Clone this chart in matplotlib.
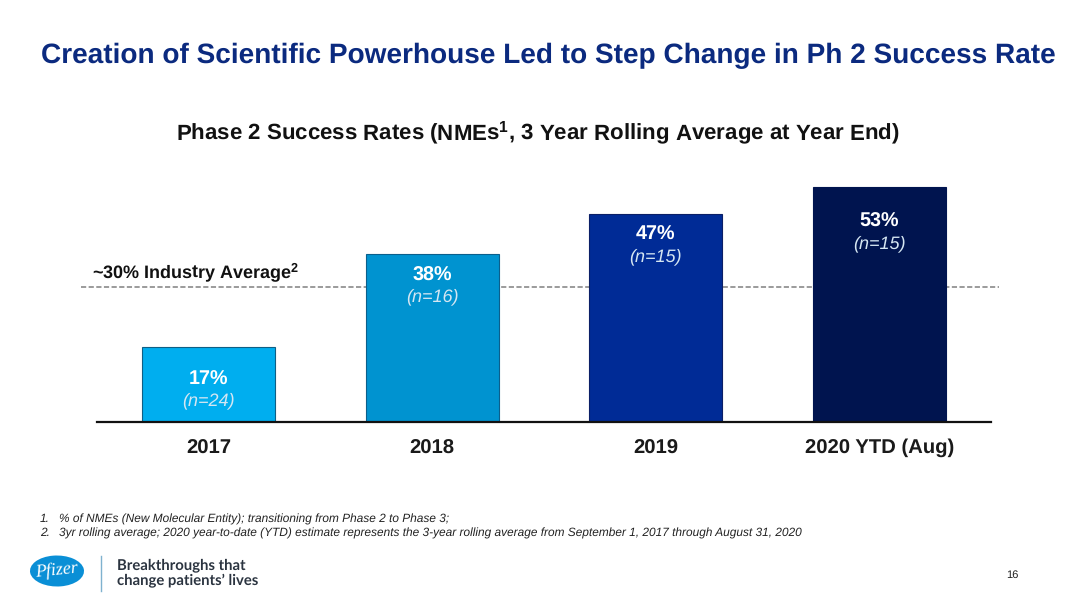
import matplotlib
matplotlib.use('Agg')
import matplotlib.pyplot as plt
import matplotlib.patches as mpatches

plt.rcParams['font.family'] = ['Liberation Sans', 'DejaVu Sans']
plt.rcParams['mathtext.fontset'] = 'custom'
plt.rcParams['mathtext.rm'] = 'Liberation Sans'
plt.rcParams['mathtext.bf'] = 'Liberation Sans:bold'
plt.rcParams['mathtext.it'] = 'Liberation Sans:italic'
plt.rcParams['text.hinting'] = 'no_hinting'

years = ['2017', '2018', '2019', '2020 YTD (Aug)']
rates = [17, 38, 47, 53]
counts = [24, 16, 15, 15]
bar_colors = ['#00AEEF', '#0093D0', '#002B96', '#00144F']
edge_colors = ['#0F5F85', '#0B5F8C', '#0B1F66', '#00144F']
industry_avg = 30

# how far below the bar top each label sits, in pixels
pct_offsets = [33, 22, 21, 34]
n_offsets = [54, 43, 43, 56]

W, H = 1080, 607


def px(x, y):
    # reference pixels to figure fraction
    return x / W, 1 - y / H


fig = plt.figure(figsize=(W / 100, H / 100), dpi=100, facecolor='white')
ax = fig.add_axes([97 / W, 1 - 422 / H, (991 - 97) / W, (422 - 170) / H])
ax.set_xlim(-0.5, 3.5)
ax.set_ylim(0, 252 / 4.43)

ax.plot([-0.57, 3.537], [industry_avg + 0.4] * 2, ls=(0, (3.4, 1.6)), lw=1.1,
        color='#808080', clip_on=False, zorder=1)
ax.bar(range(len(years)), rates, width=0.595, color=bar_colors,
       edgecolor=edge_colors, linewidth=0.8, zorder=2)

for i, (r, n) in enumerate(zip(rates, counts)):
    ax.annotate(f'{r}%', (i, r), xytext=(0, -pct_offsets[i]), textcoords='offset pixels',
                ha='center', va='center', color='white', fontsize=14.2,
                fontweight='bold', zorder=3)
    ax.annotate(f'(n={n})', (i, r), xytext=(0, -n_offsets[i]), textcoords='offset pixels',
                ha='center', va='center', color='#d5e6f2', fontsize=13,
                fontstyle='italic', zorder=3)

for s in ['top', 'left', 'right']:
    ax.spines[s].set_visible(False)
ax.spines['bottom'].set_linewidth(1.6)
ax.spines['bottom'].set_color('#111111')
ax.set_yticks([])
ax.set_xticks(range(len(years)))
ax.set_xticklabels(years, fontsize=14.6, fontweight='bold', color='#1a1a1a')
ax.tick_params(axis='x', length=0, pad=12.5)
# the brackets make this label taller, lift it back in line with the others
ax.get_xticklabels()[3].set_y(1.5 / 252)

fig.text(*px(548, 56), 'Creation of Scientific Powerhouse Led to Step Change in Ph 2 Success Rate',
         ha='center', va='center', fontsize=20.2, fontweight='bold', color='#0B2A7F')
fig.text(*px(538, 133), r'Phase 2 Success Rates (NMEs$^{\mathbf{1}}$, 3 Year Rolling Average at Year End)',
         ha='center', va='center', fontsize=16.07, fontweight='bold', color='#111111')
fig.text(*px(92, 272), r'~30% Industry Average$^{\mathbf{2}}$', ha='left', va='center',
         fontsize=13, fontweight='bold', color='#111111')

# footnotes
fig.text(*px(40, 519), '1.', ha='left', va='center', fontsize=8.55, style='italic', color='#222222')
fig.text(*px(59, 519), '% of NMEs (New Molecular Entity); transitioning from Phase 2 to Phase 3;',
         ha='left', va='center', fontsize=8.55, style='italic', color='#222222')
fig.text(*px(40, 533), '2.', ha='left', va='center', fontsize=8.55, style='italic', color='#222222')
fig.text(*px(59, 533), '3yr rolling average; 2020 year-to-date (YTD) estimate represents the 3-year '
         'rolling average from September 1, 2017 through August 31, 2020',
         ha='left', va='center', fontsize=8.55, style='italic', color='#222222')

# logo and tagline
cx, cy = px(57, 571)
fig.add_artist(mpatches.Ellipse((cx, cy), 54 / W, 31 / H, angle=8, transform=fig.transFigure,
                                facecolor='#0A8FD6', edgecolor='none'))
fig.text(cx, cy, 'Pfizer', ha='center', va='center', fontsize=13, style='italic',
         family='Liberation Serif', color='white', rotation=6)
fig.add_artist(plt.Line2D([101 / W, 101 / W], [1 - 556 / H, 1 - 591 / H],
                          color='#7fb2cf', lw=1, transform=fig.transFigure))
fig.text(*px(117, 565), 'Breakthroughs that', ha='left', va='center', fontsize=10.68,
         family='Lato', fontweight='bold', color='#2b3440')
fig.text(*px(117, 580), "change patients\u2019 lives", ha='left', va='center', fontsize=10.68,
         family='Lato', fontweight='bold', color='#2b3440')
fig.text(*px(1012, 575), '16', ha='center', va='center', fontsize=8, color='#222222')

fig.savefig('out.png', dpi=100, facecolor='white')
